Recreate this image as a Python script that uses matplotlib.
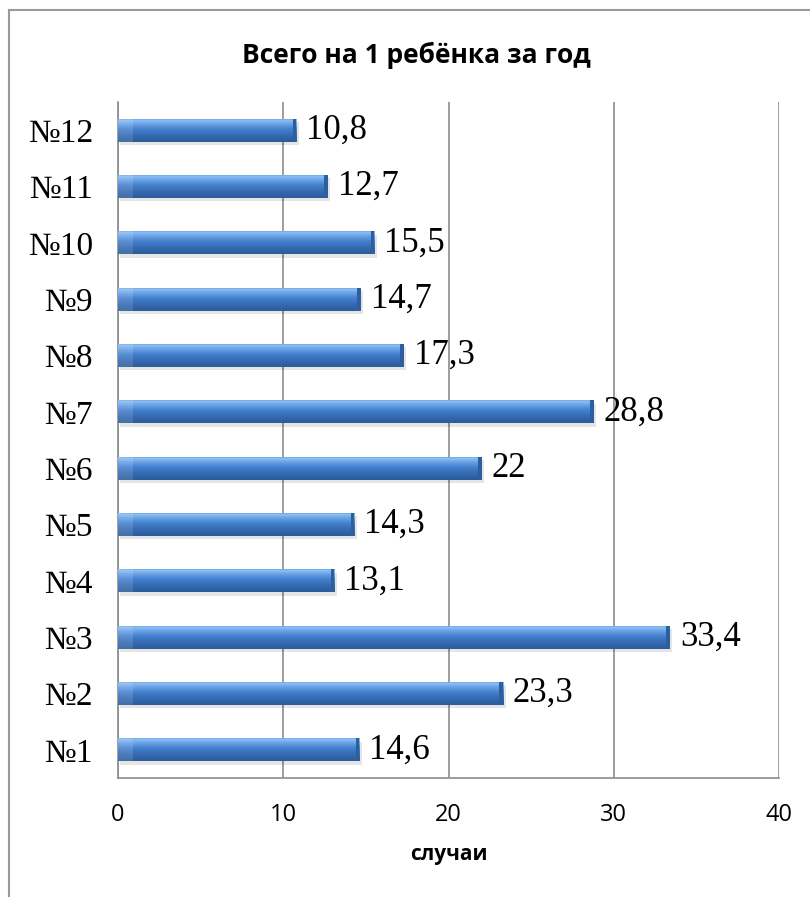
import matplotlib
matplotlib.use("Agg")
import matplotlib.pyplot as plt
import numpy as np
from matplotlib.colors import LinearSegmentedColormap
from matplotlib.lines import Line2D

categories = ["№1", "№2", "№3", "№4", "№5", "№6", "№7", "№8", "№9", "№10", "№11", "№12"]
values = [14.6, 23.3, 33.4, 13.1, 14.3, 22, 28.8, 17.3, 14.7, 15.5, 12.7, 10.8]
value_labels = ["14,6", "23,3", "33,4", "13,1", "14,3", "22", "28,8", "17,3", "14,7", "15,5", "12,7", "10,8"]
xticks = [0, 10, 20, 30, 40]
title = "Всего на 1 ребёнка за год"
xlabel = "случаи"

W, H = 810, 897
fig = plt.figure(figsize=(W / 100, H / 100), dpi=100)
ax = fig.add_axes([118 / W, 1 - 778 / H, (779 - 118) / W, (778 - 102) / H])

y = np.arange(len(categories))
bar_h = 0.41

# shadow
ax.barh(y - 0.06, values, height=bar_h, left=0.15, color="#000000", alpha=0.10, zorder=2, linewidth=0)
bars = ax.barh(y, values, height=bar_h, color="#3F7BC8", zorder=3, linewidth=0)

cmap = LinearSegmentedColormap.from_list(
    "bargrad",
    [(0.0, "#2A5C99"), (0.25, "#3468AE"), (0.55, "#4482D0"), (0.8, "#74AAEA"), (0.9, "#8EC0F4"), (1.0, "#5A93DA")],
)
grad = np.linspace(0, 1, 256).reshape(-1, 1)
for b in bars:
    x0, y0 = b.get_x(), b.get_y()
    w, h = b.get_width(), b.get_height()
    im = ax.imshow(grad, cmap=cmap, aspect="auto", origin="lower",
                   extent=[x0, x0 + w, y0, y0 + h], zorder=4, interpolation="bilinear")
    im.set_clip_path(b)
    # right bevel end
    ax.add_patch(plt.Rectangle((x0 + w - 0.22, y0), 0.22, h, color="#2D5F9F", zorder=5, linewidth=0))
    # left lighter patch
    ax.add_patch(plt.Rectangle((x0, y0), 0.9, h, color="#FFFFFF", alpha=0.12, zorder=5, linewidth=0))

for yi, v, lab in zip(y, values, value_labels):
    ax.text(v + 0.6, yi, lab, va="center", ha="left", fontsize=25,
            family="Liberation Serif", zorder=6)

ax.set_xlim(0, 40)
ax.set_ylim(-0.5, len(categories) - 0.5)
ax.set_xticks(xticks)
ax.set_xticklabels([str(t) for t in xticks], fontsize=17, family="Open Sans")
ax.set_yticks(y)
ax.set_yticklabels(categories, fontsize=24, family="Liberation Serif")
ax.tick_params(axis="x", length=0, pad=18)
ax.tick_params(axis="y", length=0, pad=18)
ax.grid(axis="x", color="#8C8C8C", linewidth=1.2, zorder=0)
ax.set_axisbelow(True)
for s in ["top", "right"]:
    ax.spines[s].set_visible(False)
for s in ["left", "bottom"]:
    ax.spines[s].set_color("#8C8C8C")
    ax.spines[s].set_linewidth(1.2)

ax.set_xlabel(xlabel, fontsize=15, fontweight="bold", family="Open Sans", labelpad=12)
fig.text(416 / W, 1 - 55 / H, title, ha="center", va="center", fontsize=19,
         fontweight="bold", family="Open Sans")

# outer border
fig.add_artist(Line2D([9 / W, 1.0], [1 - 10 / H, 1 - 10 / H], color="#9A9A9A", linewidth=1.5, transform=fig.transFigure))
fig.add_artist(Line2D([9 / W, 9 / W], [1 - 10 / H, 0], color="#9A9A9A", linewidth=1.5, transform=fig.transFigure))

fig.savefig("out.png", dpi=100)
